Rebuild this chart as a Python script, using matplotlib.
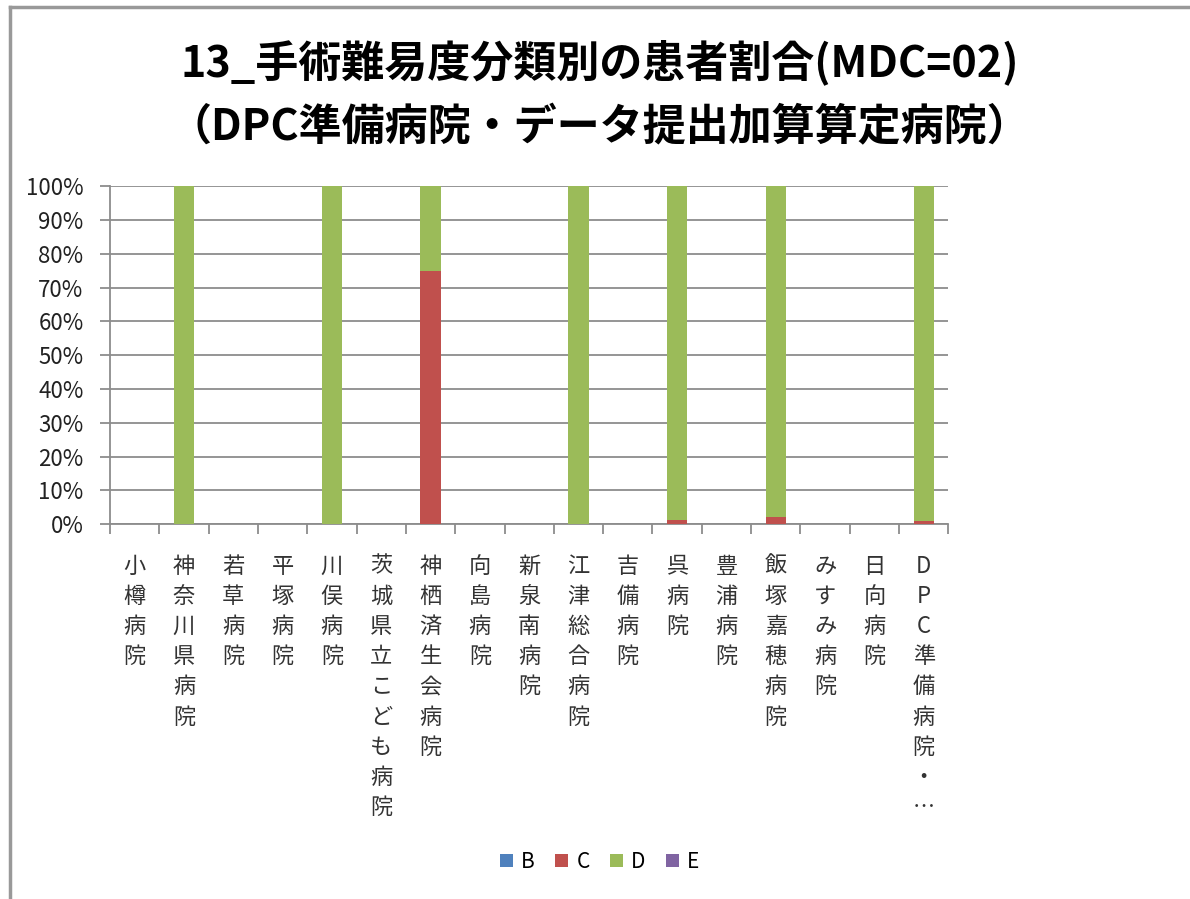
import numpy as np
import matplotlib as mpl
import matplotlib.pyplot as plt

mpl.rcParams['font.family'] = ['Noto Sans CJK JP', 'DejaVu Sans']

hospitals = ['小樽病院', '神奈川県病院', '若草病院', '平塚病院', '川俣病院',
             '茨城県立こども病院', '神栖済生会病院', '向島病院', '新泉南病院',
             '江津総合病院', '吉備病院', '呉病院', '豊浦病院', '飯塚嘉穂病院',
             'みすみ病院', '日向病院', 'DPC準備病院・…']
series = ['B', 'C', 'D', 'E']
share_B = [0, 0, 0, 0, 0, 0, 0, 0, 0, 0, 0, 0, 0, 0, 0, 0, 0]
share_C = [0, 0, 0, 0, 0, 0, 75, 0, 0, 0, 0, 1.2, 0, 2.2, 0, 0, 0.8]
share_D = [0, 100, 0, 0, 100, 0, 25, 0, 0, 100, 0, 98.8, 0, 97.8, 0, 0, 99.2]
share_E = [0, 0, 0, 0, 0, 0, 0, 0, 0, 0, 0, 0, 0, 0, 0, 0, 0]
colors = ['#4F81BD', '#C0504D', '#9BBB59', '#8064A2']

fig = plt.figure(figsize=(11.9, 8.99), dpi=100, facecolor='white')
ax = fig.add_axes([0.0924, 0.417, 0.7046, 0.376])

x = np.arange(len(hospitals))
bottom = np.zeros(len(hospitals))
for name, vals, col in zip(series, [share_B, share_C, share_D, share_E], colors):
    vals = np.array(vals, dtype=float)
    ax.bar(x, vals, 0.41, bottom=bottom, color=col, label=name, zorder=3)
    bottom += vals

ax.set_xlim(-0.5, len(hospitals) - 0.5)
ax.set_ylim(0, 100)
ax.set_yticks(np.arange(0, 101, 10))
ax.set_yticklabels([f'{v}%' for v in range(0, 101, 10)], fontsize=16, color='#222222')
ax.yaxis.grid(True, color='#8c8c8c', lw=1.3, zorder=0)

ax.set_xticks(np.arange(-0.5, len(hospitals)))
ax.set_xticklabels([])
ax.tick_params(axis='x', length=7, width=1.3, color='#8c8c8c', direction='out')
ax.tick_params(axis='y', length=7, width=1.3, color='#8c8c8c', direction='out', pad=12)

for s in ['top', 'right']:
    ax.spines[s].set_visible(False)
for s in ['left', 'bottom']:
    ax.spines[s].set_color('#8c8c8c')
    ax.spines[s].set_linewidth(1.3)

for i, name in enumerate(hospitals):
    ax.text(i, -9.0, '\n'.join(name), ha='center', va='top', fontsize=16,
            color='#333333', linespacing=1.4, transform=ax.transData)

fig.text(0.504, 0.931, '13_手術難易度分類別の患者割合(MDC=02)', ha='center', va='center',
         fontsize=31, fontweight='bold')
fig.text(0.504, 0.858, '（DPC準備病院・データ提出加算算定病院）', ha='center', va='center',
         fontsize=31, fontweight='bold')

fig.legend(loc='center', bbox_to_anchor=(0.504, 0.041), ncol=4, frameon=False,
           fontsize=15, handlelength=0.6, handleheight=0.6, handletextpad=0.4,
           columnspacing=1.0)

# outer frame lines (left and top)
fig.add_artist(plt.Line2D([0.008, 0.008], [0.0, 0.992], color='#999999', lw=2.5,
                          transform=fig.transFigure))
fig.add_artist(plt.Line2D([0.008, 1.0], [0.992, 0.992], color='#999999', lw=2.5,
                          transform=fig.transFigure))

plt.savefig('out.png', dpi=100, facecolor='white')
